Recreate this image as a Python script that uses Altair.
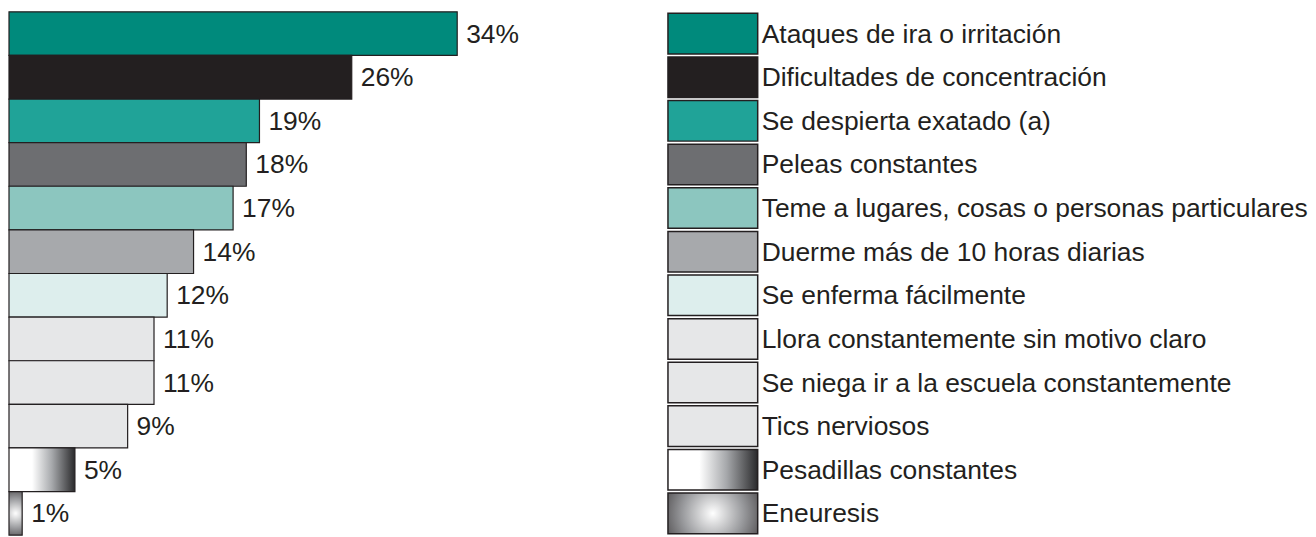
import altair as alt
import pandas as pd

categories = [
    "Ataques de ira o irritación",
    "Dificultades de concentración",
    "Se despierta exatado (a)",
    "Peleas constantes",
    "Teme a lugares, cosas o personas particulares",
    "Duerme más de 10 horas diarias",
    "Se enferma fácilmente",
    "Llora constantemente sin motivo claro",
    "Se niega ir a la escuela constantemente",
    "Tics nerviosos",
    "Pesadillas constantes",
    "Eneuresis",
]
values = [34, 26, 19, 18, 17, 14, 12, 11, 11, 9, 5, 1]
labels = ["34%", "26%", "19%", "18%", "17%", "14%", "12%", "11%", "11%", "9%", "5%", "1%"]
colors = ["#008a7c", "#231f20", "#20a398", "#6d6e71", "#8cc6bf", "#a7a9ac",
          "#ddeeed", "#e6e7e8", "#e6e7e8", "#e6e7e8", "#ffffff", "#ffffff"]

df = pd.DataFrame({"cat": categories, "val": values, "lab": labels, "col": colors})
solid = df.iloc[:10]
pes = df.iloc[[10]]
ene = df.iloc[[11]]

FONT = "Liberation Sans"
FS = 26.5
STROKE = "#231f20"

y_bars = alt.Y("cat:N", sort=categories, axis=None,
               scale=alt.Scale(paddingInner=0, paddingOuter=0))
x_bars = alt.X("val:Q", axis=None, scale=alt.Scale(domain=[0, 48.4], nice=False, zero=True))

lin_grad = alt.LinearGradient(gradient="linear", x1=0, x2=1, y1=0, y2=0,
                              stops=[alt.GradientStop(color="#ffffff", offset=0),
                                     alt.GradientStop(color="#ffffff", offset=0.35),
                                     alt.GradientStop(color="#a7a9ac", offset=0.65),
                                     alt.GradientStop(color="#2a2a2c", offset=1)])
rad_grad = alt.RadialGradient(gradient="radial", x1=0.5, y1=0.5, r1=0, x2=0.5, y2=0.5, r2=0.75,
                              stops=[alt.GradientStop(color="#ffffff", offset=0),
                                     alt.GradientStop(color="#9a9b9e", offset=0.45),
                                     alt.GradientStop(color="#231f20", offset=1)])

bars = alt.Chart(solid).mark_bar(stroke=STROKE, strokeWidth=1.2, cornerRadius=0).encode(
    y=y_bars, x=x_bars, fill=alt.Fill("col:N", scale=None))
bar_pes = alt.Chart(pes).mark_bar(stroke=STROKE, strokeWidth=1.2, fill=lin_grad).encode(y=y_bars, x=x_bars)
bar_ene = alt.Chart(ene).mark_bar(stroke=STROKE, strokeWidth=1.2, fill=rad_grad).encode(y=y_bars, x=x_bars)
text = alt.Chart(df).mark_text(align="left", baseline="middle", dx=9, dy=1, font=FONT,
                               fontSize=FS, color="#231f20").encode(y=y_bars, x=x_bars, text="lab:N")

left = alt.layer(bars, bar_pes, bar_ene, text).properties(width=640, height=525)

y_leg = alt.Y("cat:N", sort=categories, axis=None,
              scale=alt.Scale(paddingInner=0.07, paddingOuter=0.035))
leg_solid = alt.Chart(solid).mark_bar(stroke=STROKE, strokeWidth=1.5).encode(
    y=y_leg, x=alt.value(0), x2=alt.value(90), fill=alt.Fill("col:N", scale=None))
leg_pes = alt.Chart(pes).mark_bar(stroke=STROKE, strokeWidth=1.5, fill=lin_grad).encode(
    y=y_leg, x=alt.value(0), x2=alt.value(90))
leg_ene = alt.Chart(ene).mark_bar(stroke=STROKE, strokeWidth=1.5, fill=rad_grad).encode(
    y=y_leg, x=alt.value(0), x2=alt.value(90))
leg_text = alt.Chart(df).mark_text(align="left", baseline="middle", dy=1, font=FONT, fontSize=FS,
                                   color="#231f20").encode(y=y_leg, x=alt.value(94), text="cat:N")
legend = alt.layer(leg_solid, leg_pes, leg_ene, leg_text).properties(width=640, height=525)

chart = alt.hconcat(left, legend, spacing=20).properties(
    padding={"top": 2, "left": 0, "right": 0, "bottom": 0}
).configure_view(stroke=None)

chart.save("out.html", embed_options={"renderer": "svg", "actions": False})
